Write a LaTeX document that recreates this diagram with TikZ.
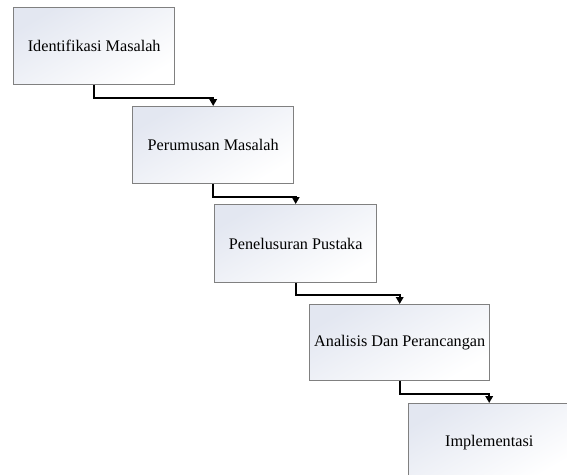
\documentclass[tikz,border=0pt]{standalone}
\usepackage{fontspec}
\setmainfont{Liberation Serif}
\usetikzlibrary{arrows.meta}
\definecolor{shadeblue}{HTML}{E3E7F1}
\definecolor{boxline}{HTML}{808080}
\begin{document}
\begin{tikzpicture}[x=1pt,y=1pt,
  stepbox/.style={draw=boxline, line width=1.4pt, rectangle, anchor=north west,
    top color=shadeblue, bottom color=white, shading angle=30,
    inner sep=0pt, font=\fontsize{16.2}{19}\selectfont},
  flow/.style={draw=black, line width=2pt, -{Triangle[width=7.5pt,length=7pt]}}
]
\useasboundingbox (0,0) rectangle (567,-474);
\begin{scope}
\clip (0,0) rectangle (567,-474);
\node[stepbox, minimum width=161pt, minimum height=77pt] (b1) at (13,-7) {Identifikasi Masalah};
\node[stepbox, minimum width=161pt, minimum height=77pt] (b2) at (132,-106) {Perumusan Masalah};
\node[stepbox, minimum width=162pt, minimum height=78pt] (b3) at (214,-204) {Penelusuran Pustaka};
\node[stepbox, minimum width=180pt, minimum height=76pt] (b4) at (309,-304) {Analisis Dan Perancangan};
\node[stepbox, minimum width=161pt, minimum height=77pt] (b5) at (408,-403) {Implementasi};
\draw[flow] (b1.south) -- ++(0,-12.5) -| (b2.north);
\draw[flow] (b2.south) -- ++(0,-12.5) -| (b3.north);
\draw[flow] (b3.south) -- ++(0,-12) -| (b4.north);
\draw[flow] (b4.south) -- ++(0,-12.5) -| (b5.north);
\end{scope}
\end{tikzpicture}
\end{document}
